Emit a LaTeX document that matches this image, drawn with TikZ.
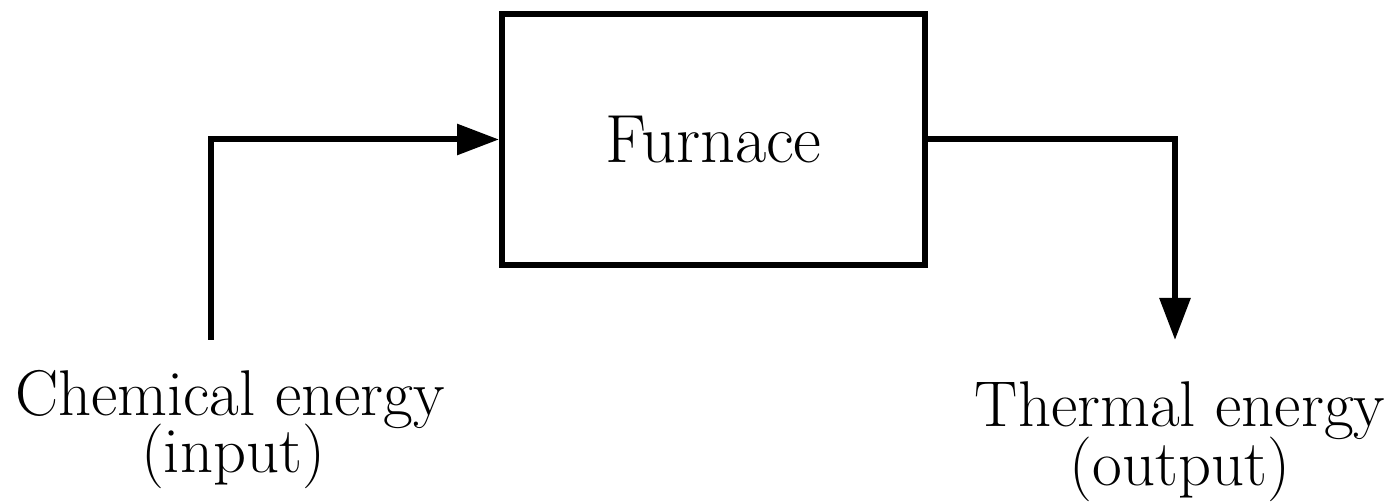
\documentclass[tikz,border=0pt]{standalone}
\usetikzlibrary{arrows.meta}
\begin{document}
\begin{tikzpicture}[
  conn/.style={line width=1.7pt,-{Triangle[length=0.42cm,width=0.3cm]}},
  lbl/.style={font=\fontsize{18.4}{22}\selectfont,inner sep=0pt,anchor=center}
]
\useasboundingbox (0,0) rectangle (13.97,5.03);
\node[draw,line width=1.7pt,minimum width=4.23cm,minimum height=2.51cm,inner sep=0pt,
  font=\fontsize{19.4}{23}\selectfont] (furnace) at (7.135,3.635) {Furnace};
\coordinate (inStart) at (2.11,1.63);
\coordinate (outEnd) at (11.75,1.63);
\draw[conn] (inStart) |- (furnace.west);
\draw[conn] (furnace.east) -| (outEnd);
\node[lbl] (chem) at (2.30,1.03) {Chemical energy};
\node[lbl] (inp) at (2.33,0.47) {(input)};
\node[lbl] (therm) at (11.80,0.92) {Thermal energy};
\node[lbl] (outp) at (11.80,0.34) {(output)};
\end{tikzpicture}
\end{document}
